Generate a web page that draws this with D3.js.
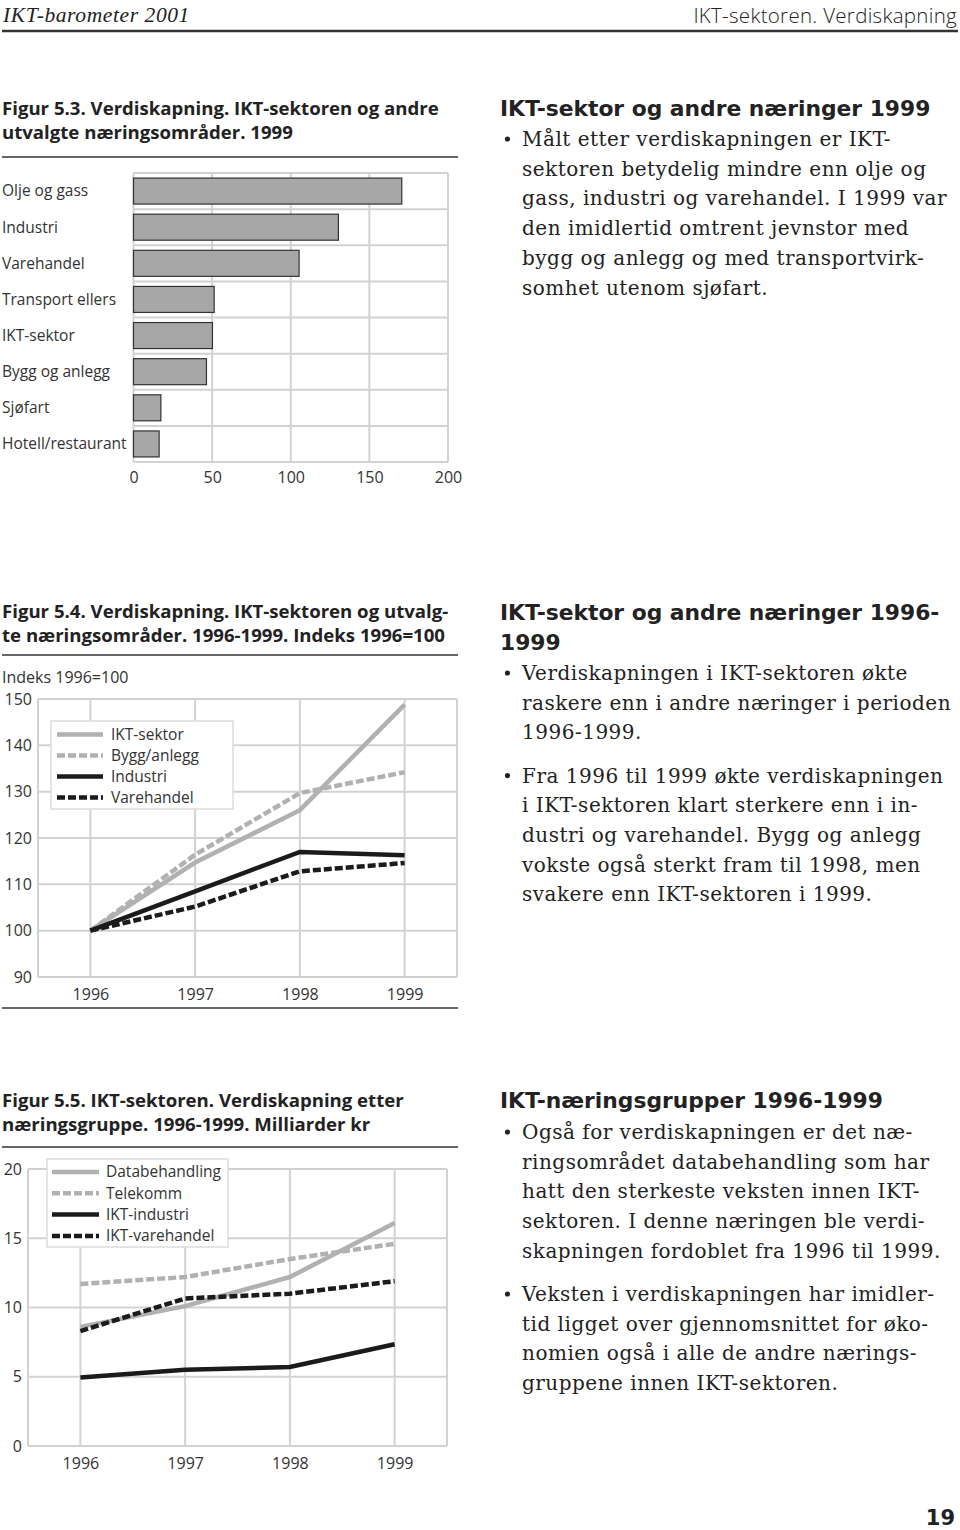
<!DOCTYPE html>
<html>
<head>
<meta charset="utf-8">
<script src="https://cdn.jsdelivr.net/npm/d3@7/dist/d3.min.js"></script>
<style>
  body { margin: 0; background: #fff; }
  svg { display: block; }
</style>
</head>
<body>
<svg id="page"></svg>
<script>
// Figur 5.3 - verdiskapning 1999 (mrd kr)
const barCategories = ["Olje og gass", "Industri", "Varehandel", "Transport ellers",
  "IKT-sektor", "Bygg og anlegg", "Sjøfart", "Hotell/restaurant"];
const barValues = [170.6, 130.3, 105.3, 51.3, 50.2, 46.4, 17.4, 16.3];
const barTicks = [0, 50, 100, 150, 200];

// Figur 5.4 - indeks 1996=100
const years = [1996, 1997, 1998, 1999];
const indexNames = ["IKT-sektor", "Bygg/anlegg", "Industri", "Varehandel"];
const indexIkt = [100, 114.7, 126.0, 148.8];
const indexBygg = [100, 116.4, 129.7, 134.2];
const indexIndustri = [100, 108.5, 117.0, 116.3];
const indexVarehandel = [100, 105.2, 112.8, 114.6];
const indexTicks = [90, 100, 110, 120, 130, 140, 150];

// Figur 5.5 - milliarder kr
const groupNames = ["Databehandling", "Telekomm", "IKT-industri", "IKT-varehandel"];
const groupData = [8.6, 10.1, 12.2, 16.1];
const groupTele = [11.7, 12.2, 13.5, 14.6];
const groupIndustri = [4.95, 5.5, 5.7, 7.35];
const groupVarehandel = [8.3, 10.65, 11.0, 11.9];
const groupTicks = [0, 5, 10, 15, 20];

const W = 960, H = 1530;
const sans = "'Open Sans', 'Noto Sans', sans-serif";
const heavy = "'DejaVu Sans', 'Open Sans', sans-serif";
const serif = "'DejaVu Serif', 'Liberation Serif', serif";
const grid = "#d2d2d2";
const light = "#b1b1b1";
const dark = "#1b1b1b";
const ink = "#222";

const svg = d3.select("#page").attr("width", W).attr("height", H);

// page header
svg.append("text").attr("x", 3).attr("y", 22)
  .style("font-family", "'Liberation Serif', serif").style("font-style", "italic")
  .style("font-size", "21.5px").style("letter-spacing", "0.6px")
  .attr("fill", ink).text("IKT-barometer 2001");
svg.append("text").attr("x", 957).attr("y", 23).attr("text-anchor", "end")
  .style("font-family", sans).style("font-size", "20.5px").style("font-weight", 300)
  .style("letter-spacing", "0.3px")
  .attr("fill", ink).text("IKT-sektoren. Verdiskapning");
svg.append("line").attr("x1", 2).attr("x2", 958).attr("y1", 31).attr("y2", 31)
  .attr("stroke", "#333").attr("stroke-width", 2.5);

// figure titles
function title(lines, y0, ruleY) {
  lines.forEach((t, i) => {
    svg.append("text").attr("x", 2).attr("y", y0 + i * 24)
      .style("font-family", sans).style("font-weight", 700).style("font-size", "18.6px")
      .attr("fill", ink).text(t);
  });
  svg.append("line").attr("x1", 2).attr("x2", 458).attr("y1", ruleY).attr("y2", ruleY)
    .attr("stroke", "#333").attr("stroke-width", 1.5);
}
title(["Figur 5.3. Verdiskapning. IKT-sektoren og andre", "utvalgte næringsområder. 1999"], 115, 157);
title(["Figur 5.4. Verdiskapning. IKT-sektoren og utvalg-", "te næringsområder. 1996-1999. Indeks 1996=100"], 618, 655);
title(["Figur 5.5. IKT-sektoren. Verdiskapning etter", "næringsgruppe. 1996-1999. Milliarder kr"], 1107, 1147);

// ---------- Figur 5.3 bar chart ----------
{
  const x = d3.scaleLinear().domain([0, 200]).range([133.5, 448]);
  const y = d3.scaleBand().domain(barCategories).range([173, 462]).paddingInner(0.28).paddingOuter(0.14);
  const g = svg.append("g");
  const rows = d3.range(barCategories.length + 1).map(i => 173 + i * (462 - 173) / barCategories.length);

  g.selectAll(".vgrid").data(barTicks).join("line")
    .attr("x1", d => x(d)).attr("x2", d => x(d)).attr("y1", 173).attr("y2", 462)
    .attr("stroke", grid).attr("stroke-width", 2);
  g.selectAll(".hgrid").data(rows).join("line")
    .attr("x1", x(0)).attr("x2", x(200)).attr("y1", d => d).attr("y2", d => d)
    .attr("stroke", grid).attr("stroke-width", 2);

  g.selectAll("rect").data(barValues).join("rect")
    .attr("x", x(0)).attr("y", (d, i) => y(barCategories[i]))
    .attr("width", d => x(d) - x(0)).attr("height", y.bandwidth())
    .attr("fill", "#a7a7a7").attr("stroke", "#333").attr("stroke-width", 1.2);

  g.selectAll(".cat").data(barCategories).join("text")
    .attr("x", 2).attr("y", d => y(d) + y.bandwidth() / 2).attr("dy", "0.35em")
    .style("font-family", sans).style("font-size", "15.5px").attr("fill", "#333").text(d => d);

  const ax = g.append("g").attr("transform", "translate(0,462)")
    .call(d3.axisBottom(x).tickValues(barTicks).tickSize(0).tickPadding(10));
  ax.select(".domain").remove();
  ax.selectAll("text").style("font-family", sans).style("font-size", "16px").attr("fill", "#333");
}

// ---------- line chart helper ----------
const lineStyles = [
  { color: light, dash: null },
  { color: light, dash: "8,3" },
  { color: dark, dash: null },
  { color: dark, dash: "8,3" }
];

function lineChart(o) {
  const x = d3.scaleLinear().domain([1995.5, 1999.5]).range([o.left, o.right]);
  const y = d3.scaleLinear().domain(o.domain).range([o.bottom, o.top]);
  const g = svg.append("g");

  g.selectAll(".hg").data(o.ticks).join("line")
    .attr("x1", o.left).attr("x2", o.right).attr("y1", d => y(d)).attr("y2", d => y(d))
    .attr("stroke", grid).attr("stroke-width", 2);
  g.selectAll(".vg").data([1995.5, ...years, 1999.5]).join("line")
    .attr("x1", d => x(d)).attr("x2", d => x(d)).attr("y1", o.top).attr("y2", o.bottom)
    .attr("stroke", grid).attr("stroke-width", 2);

  const yAx = g.append("g").attr("transform", `translate(${o.labelRight},0)`)
    .call(d3.axisLeft(y).tickValues(o.ticks).tickSize(0).tickPadding(0));
  yAx.select(".domain").remove();
  yAx.selectAll("text").style("font-family", sans).style("font-size", "16px").attr("fill", "#333");

  const xAx = g.append("g").attr("transform", `translate(0,${o.bottom})`)
    .call(d3.axisBottom(x).tickValues(years).tickFormat(d3.format("d")).tickSize(0).tickPadding(o.xPad));
  xAx.select(".domain").remove();
  xAx.selectAll("text").style("font-family", sans).style("font-size", "16px").attr("fill", "#333");

  const line = d3.line().x((d, i) => x(years[i])).y(d => y(d));
  g.selectAll(".series").data(o.series).join("path")
    .attr("d", d => line(d)).attr("fill", "none")
    .attr("stroke", (d, i) => lineStyles[i].color)
    .attr("stroke-dasharray", (d, i) => lineStyles[i].dash)
    .attr("stroke-width", 4.5);

  const L = o.legend;
  const lg = g.append("g");
  lg.append("rect").attr("x", L.x).attr("y", L.y).attr("width", L.w).attr("height", L.h)
    .attr("fill", "#fff").attr("stroke", "#dcdcdc").attr("stroke-width", 1.5);
  o.names.forEach((n, i) => {
    const ry = L.rowY + i * L.step;
    lg.append("line").attr("x1", L.s0).attr("x2", L.s1).attr("y1", ry).attr("y2", ry)
      .attr("stroke", lineStyles[i].color).attr("stroke-dasharray", lineStyles[i].dash)
      .attr("stroke-width", 4.5);
    lg.append("text").attr("x", L.tx).attr("y", ry).attr("dy", "0.35em")
      .style("font-family", sans).style("font-size", "15.5px").attr("fill", "#333").text(n);
  });
}

// Figur 5.4
svg.append("text").attr("x", 2).attr("y", 683)
  .style("font-family", sans).style("font-size", "16px").attr("fill", "#333").text("Indeks 1996=100");
lineChart({
  left: 38, right: 457, top: 699, bottom: 977, domain: [90, 150], ticks: indexTicks,
  labelRight: 32, xPad: 12,
  series: [indexIkt, indexBygg, indexIndustri, indexVarehandel], names: indexNames,
  legend: { x: 51, y: 721, w: 182, h: 88, rowY: 734.5, step: 21, s0: 57, s1: 103, tx: 111 }
});
svg.append("line").attr("x1", 2).attr("x2", 458).attr("y1", 1008).attr("y2", 1008)
  .attr("stroke", "#333").attr("stroke-width", 1.5);

// Figur 5.5
lineChart({
  left: 28, right: 447, top: 1169, bottom: 1446, domain: [0, 20], ticks: groupTicks,
  labelRight: 22, xPad: 12,
  series: [groupData, groupTele, groupIndustri, groupVarehandel], names: groupNames,
  legend: { x: 47, y: 1159, w: 181, h: 88, rowY: 1172, step: 21.3, s0: 52, s1: 99, tx: 106 }
});

// ---------- right-hand text ----------
function textBlock(heading, headY, paras, startY) {
  heading.forEach((h, i) => {
    svg.append("text").attr("x", 500).attr("y", headY + i * 30)
      .style("font-family", heavy).style("font-weight", 700).style("font-size", "21.8px")
      .attr("fill", ink).text(h);
  });
  let y = startY;
  paras.forEach(p => {
    svg.append("circle").attr("cx", 507.5).attr("cy", y - 7).attr("r", 2.6).attr("fill", ink);
    p.forEach(line => {
      svg.append("text").attr("x", 522).attr("y", y)
        .style("font-family", serif).style("font-size", "20px").style("letter-spacing", "0.5px")
        .attr("fill", ink).text(line);
      y += 29.7;
    });
    y += 13.5;
  });
}

textBlock(["IKT-sektor og andre næringer 1999"], 116, [[
  "Målt etter verdiskapningen er IKT-",
  "sektoren betydelig mindre enn olje og",
  "gass, industri og varehandel. I 1999 var",
  "den imidlertid omtrent jevnstor med",
  "bygg og anlegg og med transportvirk-",
  "somhet utenom sjøfart."
]], 146);

textBlock(["IKT-sektor og andre næringer 1996-", "1999"], 620, [[
  "Verdiskapningen i IKT-sektoren økte",
  "raskere enn i andre næringer i perioden",
  "1996-1999."
], [
  "Fra 1996 til 1999 økte verdiskapningen",
  "i IKT-sektoren klart sterkere enn i in-",
  "dustri og varehandel. Bygg og anlegg",
  "vokste også sterkt fram til 1998, men",
  "svakere enn IKT-sektoren i 1999."
]], 680);

textBlock(["IKT-næringsgrupper 1996-1999"], 1108, [[
  "Også for verdiskapningen er det næ-",
  "ringsområdet databehandling som har",
  "hatt den sterkeste veksten innen IKT-",
  "sektoren. I denne næringen ble verdi-",
  "skapningen fordoblet fra 1996 til 1999."
], [
  "Veksten i verdiskapningen har imidler-",
  "tid ligget over gjennomsnittet for øko-",
  "nomien også i alle de andre nærings-",
  "gruppene innen IKT-sektoren."
]], 1139);

// page number
svg.append("text").attr("x", 955).attr("y", 1525).attr("text-anchor", "end")
  .style("font-family", heavy).style("font-weight", 700).style("font-size", "21px")
  .attr("fill", ink).text("19");
</script>
</body>
</html>
